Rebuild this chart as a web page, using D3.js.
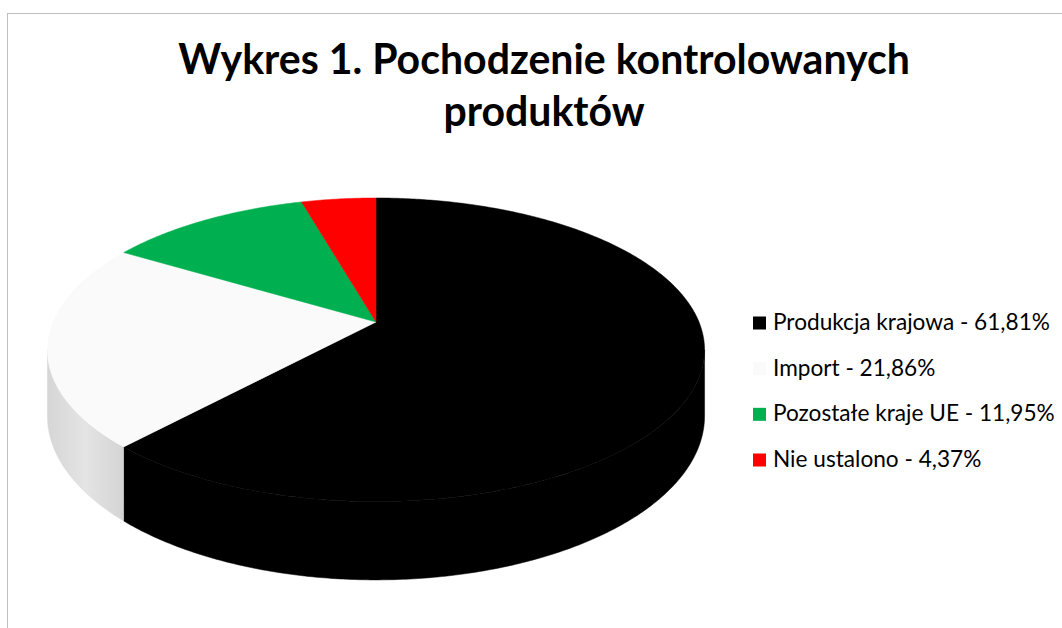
<!DOCTYPE html>
<html>
<head>
<meta charset="utf-8">
<script src="https://cdn.jsdelivr.net/npm/d3@7"></script>
<style>
  body { margin: 0; background: #fff; }
  svg { display: block; }
</style>
</head>
<body>
<svg id="chart" width="1062" height="628"></svg>
<script>
// chart data
const titleLines = ['Wykres 1. Pochodzenie kontrolowanych', 'produktów'];
const categories = ['Produkcja krajowa', 'Import', 'Pozostałe kraje UE', 'Nie ustalono'];
const values = [61.81, 21.86, 11.95, 4.37];
const valueLabels = ['61,81%', '21,86%', '11,95%', '4,37%'];
const colors = ['#000000', '#fafafa', '#00b050', '#ff0000'];

const width = 1062, height = 628;
const svg = d3.select('#chart');

// frame of the chart area
svg.append('rect')
  .attr('x', 7.5).attr('y', 13.5)
  .attr('width', 1200).attr('height', 800)
  .attr('fill', 'none')
  .attr('stroke', '#bfbfbf')
  .attr('stroke-width', 1);

// title, fitted to the width it has in the original
const title = svg.append('g')
  .attr('font-family', 'Lato, "Open Sans", sans-serif')
  .attr('font-weight', 'bold')
  .attr('fill', '#000')
  .attr('text-anchor', 'middle');

const titleText = title.selectAll('text').data(titleLines)
  .join('text')
  .attr('x', 544)
  .attr('y', (d, i) => 74 + i * 52)
  .attr('font-size', 40)
  .text(d => d);
const w0 = titleText.node().getComputedTextLength();
titleText.attr('font-size', 40 * 732 / w0);

// pseudo 3D projection of the pie
const cx = 376, cy = 322;
const A = 323, B = 146.7, T = 64, p = 0.183;

function proj(theta, r, down) {
  const x = r * Math.sin(theta);
  const z = -r * Math.cos(theta);
  const s = 1 / (1 - p * z);
  return [cx + A * x * s, cy + B * z * s + (down ? T * s : 0)];
}

function rim(a0, a1, down) {
  const n = Math.max(2, Math.ceil((a1 - a0) / 0.01));
  return d3.range(n + 1).map(i => proj(a0 + (a1 - a0) * i / n, 1, down));
}

const pie = d3.pie().sort(null).value(d => d.value);
const arcs = pie(categories.map((c, i) => ({name: c, value: values[i], color: colors[i]})));

const line = d3.line();
const sideR = Math.acos(-p);
const sideL = 2 * Math.PI - sideR;

const defs = svg.append('defs');
const grad = defs.append('linearGradient')
  .attr('id', 'importSide')
  .attr('gradientUnits', 'userSpaceOnUse')
  .attr('x1', 48).attr('x2', 130).attr('y1', 0).attr('y2', 0);
grad.append('stop').attr('offset', '0%').attr('stop-color', '#d6d6d6');
grad.append('stop').attr('offset', '45%').attr('stop-color', '#e4e4e4');
grad.append('stop').attr('offset', '100%').attr('stop-color', '#d2d2d2');

const sideFill = d => d.index === 1 ? 'url(#importSide)' : d3.color(d.data.color).darker(0.3);

// outer walls of the front half
const walls = arcs.filter(d => d.endAngle > sideR && d.startAngle < sideL);
svg.append('g').selectAll('path').data(walls)
  .join('path')
  .attr('d', d => {
    const lo = Math.max(d.startAngle, sideR), hi = Math.min(d.endAngle, sideL);
    return line(rim(lo, hi, false).concat(rim(lo, hi, true).reverse())) + 'Z';
  })
  .attr('fill', sideFill)
  .attr('stroke', sideFill)
  .attr('stroke-width', 0.5);

// top faces
svg.append('g').selectAll('path').data(arcs)
  .join('path')
  .attr('d', d => line([[cx, cy]].concat(rim(d.startAngle, d.endAngle, false))) + 'Z')
  .attr('fill', d => d.data.color)
  .attr('stroke', d => d.data.color)
  .attr('stroke-width', 0.5);

// legend
const ly = d3.scalePoint().domain(categories).range([323, 460]);
const legend = svg.append('g')
  .attr('font-family', 'Lato, "Open Sans", sans-serif')
  .attr('fill', '#000');

const rows = legend.selectAll('g').data(categories)
  .join('g')
  .attr('transform', d => `translate(753,${ly(d)})`);

rows.append('rect')
  .attr('x', 0).attr('y', -6.5)
  .attr('width', 13).attr('height', 13)
  .attr('fill', (d, i) => colors[i]);

const legendText = rows.append('text')
  .attr('x', 20)
  .attr('y', 7)
  .attr('font-size', 20)
  .text((d, i) => `${d} - ${valueLabels[i]}`);
const lw0 = legendText.node().getComputedTextLength();
legendText.attr('font-size', 20 * 277 / lw0);
</script>
</body>
</html>
